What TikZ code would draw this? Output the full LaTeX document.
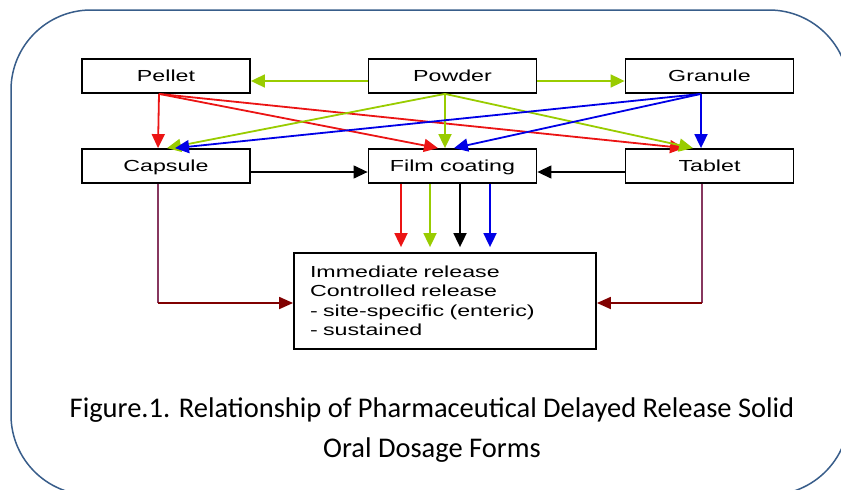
\documentclass[tikz,border=0pt]{standalone}
\usepackage{fontspec}
\usepackage{tikz}
\usetikzlibrary{arrows.meta}
\newfontfamily\boxfont[FakeStretch=1.45]{Liberation Sans}
\newfontfamily\capfont{Carlito}
\definecolor{pgreen}{RGB}{153,204,0}
\definecolor{pred}{RGB}{235,20,20}
\definecolor{pblue}{RGB}{0,0,230}
\definecolor{pmaroon}{RGB}{128,0,0}
\definecolor{pmauve}{RGB}{135,55,95}
\definecolor{pframe}{RGB}{56,93,138}
\tikzset{
formbox/.style={draw,line width=1.8pt,minimum width=168pt,minimum height=34pt,inner sep=0pt,text height=14pt,text depth=2.5pt,font=\boxfont\fontsize{16}{19}\selectfont},
flow/.style={line width=1.8pt,-{Triangle[length=14pt,width=13pt]}},
}
\begin{document}
\begin{tikzpicture}[x=1pt,y=-1pt]
\useasboundingbox (0,0) rectangle (841,490);
\clip (0,0) rectangle (841,490);
\draw[pframe,line width=1.5pt,rounded corners=80pt] (11,10) rectangle (849,495);

\node[formbox] (pellet) at (166,76) {Pellet};
\node[formbox] (powder) at (452.5,76) {Powder};
\node[formbox] (granule) at (709.5,76) {Granule};
\node[formbox] (capsule) at (166,166) {Capsule};
\node[formbox] (film) at (452.5,166) {Film coating};
\node[formbox] (tablet) at (709.5,166) {Tablet};
\node[formbox,minimum width=302pt,minimum height=96pt,text width=270pt,text height=,text depth=,align=left,font=\boxfont\fontsize{16}{19.5}\selectfont] (release) at (445,301) {Immediate release\\Controlled release\\- site-specific (enteric)\\- sustained};

\draw[flow,pgreen] ([yshift=-5pt]powder.west) -- ([yshift=-5pt]pellet.east);
\draw[flow,pgreen] ([yshift=-5pt]powder.east) -- ([yshift=-5pt]granule.west);

\foreach \src/\sx/\col/\ca/\cb/\cc in {pellet/-7/pred/-8/-14.5/-25.5, powder/-7.5/pgreen/1/-7.5/-16.5, granule/-8.5/pblue/9/1.5/-8.5} {
\draw[flow,\col] ([xshift=\sx pt]\src.south) -- ([xshift=\ca pt]capsule.north);
\draw[flow,\col] ([xshift=\sx pt]\src.south) -- ([xshift=\cb pt]film.north);
\draw[flow,\col] ([xshift=\sx pt]\src.south) -- ([xshift=\cc pt]tablet.north);
}

\draw[flow,line width=1.3pt] ([yshift=-6pt]capsule.east) -- ([yshift=-6pt]film.west);
\draw[flow,line width=1.3pt] ([yshift=-6pt]tablet.west) -- ([yshift=-6pt]film.east);

\foreach \dx/\col in {-51.5/pred, -22.5/pgreen, 7.5/black, 37.5/pblue} {
\draw[flow,\col,shorten >=5pt] ([xshift=\dx pt]film.south) -- ([xshift=\dx pt]film.south |- release.north);
}

\coordinate (lbend) at ([xshift=-8pt,yshift=-2pt]capsule.south |- release.west);
\coordinate (rbend) at ([xshift=-7.5pt,yshift=-2pt]tablet.south |- release.east);
\draw[pmauve,line width=1.4pt] ([xshift=-8pt]capsule.south) -- (lbend);
\draw[pmauve,line width=1.4pt] ([xshift=-7.5pt]tablet.south) -- (rbend);
\draw[flow,pmaroon,-{Triangle[length=14pt,width=12pt]}] (lbend) -- (lbend -| release.west);
\draw[flow,pmaroon,-{Triangle[length=14pt,width=12pt]}] (rbend) -- (rbend -| release.east);

\node[font=\capfont\fontsize{28.5}{32}\selectfont,anchor=base] (cap1) at (432,417) {Figure.1. Relationship of Pharmaceutical Delayed Release Solid};
\node[font=\capfont\fontsize{28.5}{32}\selectfont,anchor=base] (cap2) at (432,457) {Oral Dosage Forms};
\end{tikzpicture}
\end{document}
